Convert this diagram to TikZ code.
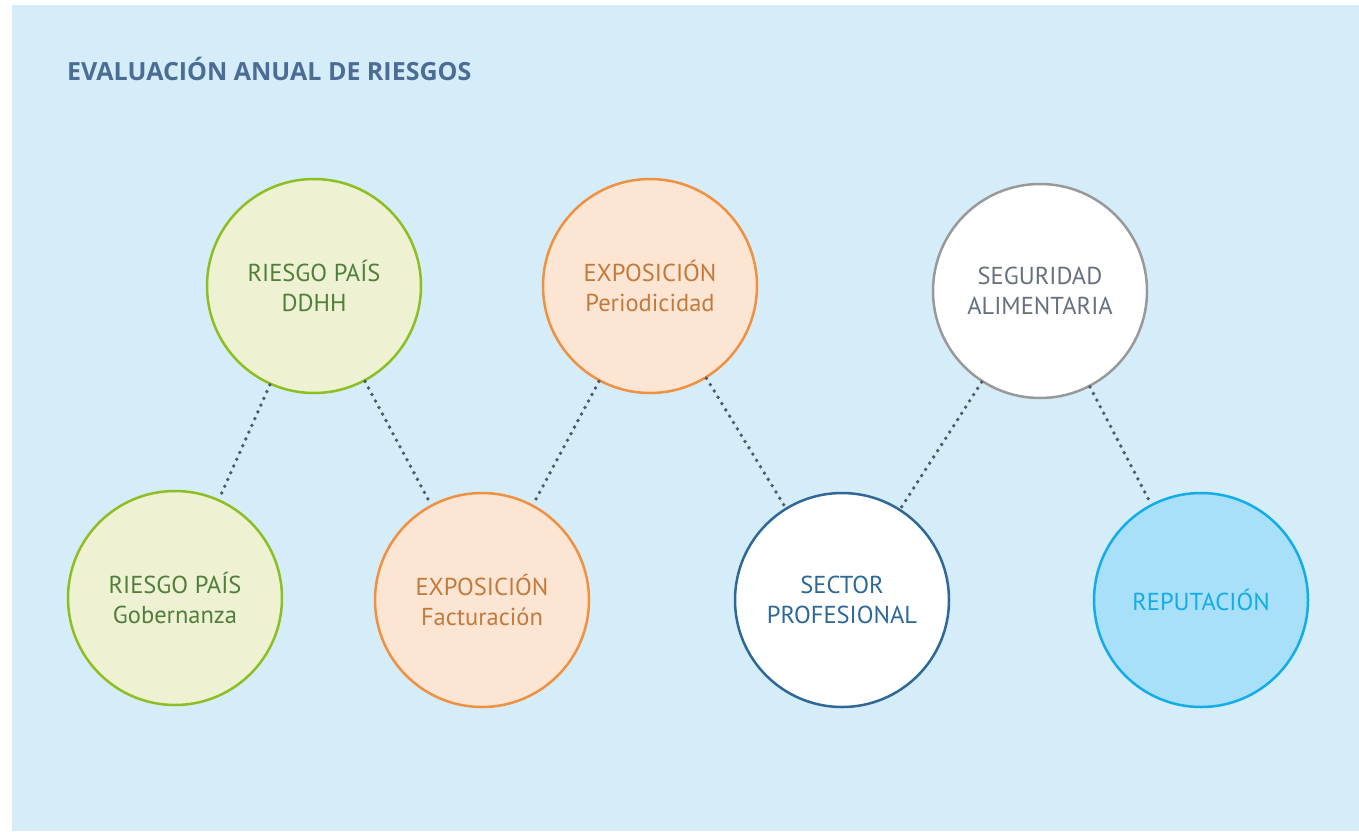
\documentclass[tikz,border=0pt]{standalone}
\usepackage{fontspec}
\setmainfont{PT Sans}
\newfontfamily\titlefont{Open Sans}
\usepackage{xcolor}
\usepackage{tikz}
\usetikzlibrary{calc}
\usetikzlibrary{backgrounds}

\definecolor{bgblue}{HTML}{D5ECF9}
\definecolor{titleblue}{HTML}{4A6C95}
\definecolor{greenline}{HTML}{8DBE22}
\definecolor{greenfill}{HTML}{EEF2D2}
\definecolor{greentext}{HTML}{4F7F3B}
\definecolor{orangeline}{HTML}{EF9140}
\definecolor{orangefill}{HTML}{FDE5D4}
\definecolor{orangetext}{HTML}{C27A3C}
\definecolor{grayline}{HTML}{999999}
\definecolor{graytext}{HTML}{67707C}
\definecolor{navyline}{HTML}{2E6899}
\definecolor{cyanline}{HTML}{12ACE8}
\definecolor{cyanfill}{HTML}{A9E0F9}
\definecolor{dotgray}{HTML}{4F5A66}

\tikzset{
  riesgo/.style={circle,minimum size=214pt,inner sep=0pt,line width=2.5pt,
    align=center,font=\fontsize{24.5}{30}\selectfont},
  verde/.style={riesgo,draw=greenline,fill=greenfill,text=greentext},
  naranja/.style={riesgo,draw=orangeline,fill=orangefill,text=orangetext},
  gris/.style={riesgo,draw=grayline,fill=white,text=graytext},
  marino/.style={riesgo,draw=navyline,fill=white,text=navyline},
  celeste/.style={riesgo,draw=cyanline,fill=cyanfill,text=cyanline},
  punteado/.style={dotgray,line width=3.8pt,line cap=round,dash pattern=on 0pt off 7.4pt}
}

\begin{document}
\begin{tikzpicture}[x=1pt,y=-1pt]
\useasboundingbox (0,0) rectangle (1359,831);
\fill[bgblue] (12,5) rectangle (1359,831);
\node[anchor=base west,text=titleblue,font=\titlefont\fontsize{25}{30}\selectfont\bfseries,inner sep=0pt]
  (titulo) at (67,80) {EVALUACIÓN ANUAL DE RIESGOS};
%% fila superior
\node[verde]   (ddhh)  at (314,286)  {RIESGO PAÍS\\DDHH};
\node[naranja] (perio) at (650,286)  {EXPOSICIÓN\\Periodicidad};
\node[gris]    (alim)  at (1040,291) {SEGURIDAD\\ALIMENTARIA};
%% fila inferior
\node[verde]   (gober) at (175,598)  {RIESGO PAÍS\\Gobernanza};
\node[naranja] (factu) at (482,600)  {EXPOSICIÓN\\Facturación};
\node[marino]  (sector) at (842,600) {SECTOR\\PROFESIONAL};
\node[celeste] (reput) at (1201,600) {REPUTACIÓN};
\foreach \a/\b in {ddhh/gober, ddhh/factu, perio/factu, perio/sector, alim/sector, alim/reput}
    \draw[punteado] (\a) -- (\b);
\end{tikzpicture}
\end{document}
